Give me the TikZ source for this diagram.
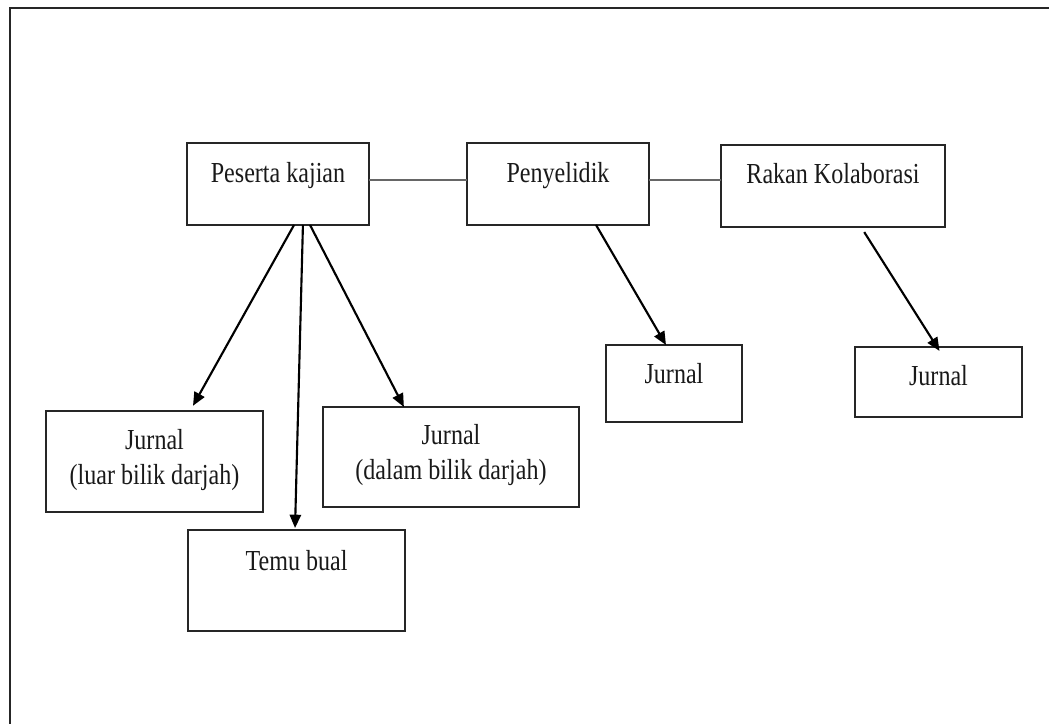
\documentclass[tikz,border=0pt]{standalone}
\usepackage{fontspec}
\setmainfont[FakeStretch=0.83]{Liberation Serif}
\usetikzlibrary{arrows.meta,calc}
\begin{document}
\begin{tikzpicture}[x=0.75pt,y=-0.75pt,
  box/.style={draw=black!85, line width=1.5pt, inner sep=0pt, outer sep=0pt},
  lbl/.style={font=\fontsize{21.75pt}{26.25pt}\selectfont, inner sep=0pt, align=center, text=black!90, anchor=base},
  arr/.style={draw=black, line width=1.6pt, -{Triangle[length=10pt,width=8.5pt]}},
  link/.style={draw=black!60, line width=1.1pt},
  frame/.style={draw=black!85, line width=1.7pt}]
\useasboundingbox (0,0) rectangle (1049,724);
\draw[frame] (10,724) -- (10,8) -- (1049,8);

% boxes
\node[box, minimum width=136.5pt, minimum height=61.5pt] (P) at (278,184) {};
\node[box, minimum width=136.5pt, minimum height=61.5pt] (Pen) at (558,184) {};
\node[box, minimum width=168pt, minimum height=61.5pt] (R) at (833,186) {};
\node[box, minimum width=102pt, minimum height=57.75pt] (J1) at (674,383.5) {};
\node[box, minimum width=125.25pt, minimum height=52.5pt] (J2) at (938.5,382) {};
\node[box, minimum width=162.75pt, minimum height=75.75pt] (JL) at (154.5,461.5) {};
\node[box, minimum width=192pt, minimum height=75pt] (JD) at (451,457) {};
\node[box, minimum width=162.75pt, minimum height=75.75pt] (T) at (296.5,580.5) {};

% labels (base = baseline of the last line)
\node[lbl] (tP) at (278,182) {Peserta kajian};
\node[lbl] (tPen) at (558,182) {Penyelidik};
\node[lbl] (tR) at (833,183) {Rakan Kolaborasi};
\node[lbl] (tJ1) at (674,383) {Jurnal};
\node[lbl] (tJ2) at (938.5,385) {Jurnal};
\node[lbl] (tJL) at (154.5,484) {Jurnal\\(luar bilik darjah)};
\node[lbl] (tJD) at (451,479) {Jurnal\\(dalam bilik darjah)};
\node[lbl] (tT) at (296.5,570) {Temu bual};

% links
\draw[link] ($(P.north east)!0.451!(P.south east)$) coordinate (l1) -- (l1 -| Pen.west);
\draw[link] ($(Pen.north east)!0.451!(Pen.south east)$) coordinate (l2) -- (l2 -| R.west);

% arrows
\draw[arr, shorten >=4.5pt] ($(P.south west)!0.588!(P.south east)$) -- ($(JL.north west)!0.664!(JL.north east)$);
\draw[arr, shorten >=1.5pt] ($(P.south west)!0.637!(P.south east)$) -- ($(T.north west)!0.493!(T.north east)$);
\draw[arr] ($(P.south west)!0.676!(P.south east)$) -- ($(JD.north west)!0.316!(JD.north east)$);
\draw[arr] ($(Pen.south west)!0.709!(Pen.south east)$) -- ($(J1.north west)!0.441!(J1.north east)$);
\draw[arr, shorten <=4.5pt, shorten >=-3.5pt] ($(R.south west)!0.625!(R.south east)$) -- ($(J2.north west)!0.491!(J2.north east)$);
\end{tikzpicture}
\end{document}
